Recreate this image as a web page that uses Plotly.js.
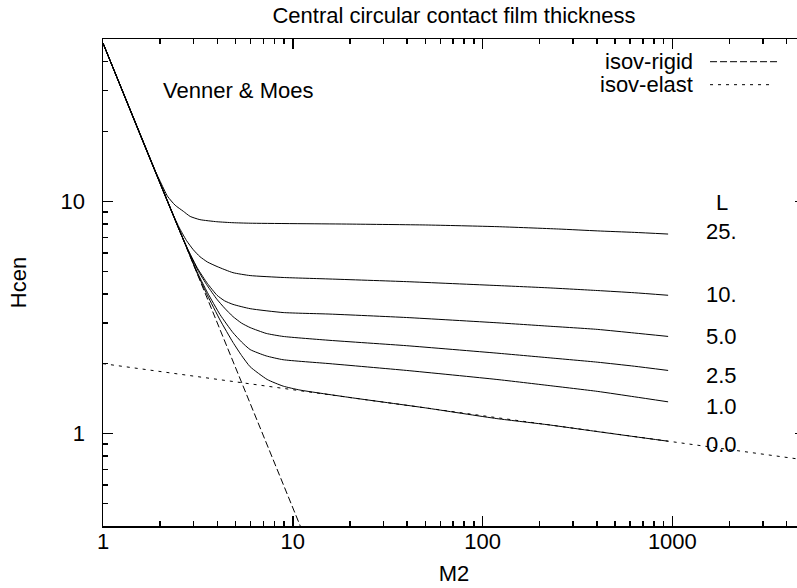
<!DOCTYPE html>
<html>
<head>
<meta charset="utf-8">
<script src="https://cdn.plot.ly/plotly-3.0.1.min.js"></script>
<style>
html, body { margin: 0; padding: 0; overflow: hidden; background: #fff; }
#chart { width: 805px; height: 588px; }
</style>
</head>
<body>
<div id="chart"></div>
<script>
// ---- data ----
const rigidM = [1, 12];
const rigidH = [48, 0.333];
const elastM = [1, 5000];
const elastH = [2.0, 0.77];

const m25 = [1, 1.86, 2.00, 2.19, 2.40, 2.65, 2.88, 3.24, 3.98, 4.84, 5.96, 20.0, 50.1, 119, 251, 402, 631, 950];
const h25 = [48, 13.8, 12.2, 10.5, 9.62, 9.06, 8.61, 8.34, 8.17, 8.09, 8.05, 7.98, 7.91, 7.78, 7.60, 7.46, 7.35, 7.23];

const m10 = [1, 2.25, 2.51, 2.75, 2.99, 3.24, 3.55, 3.99, 4.84, 5.96, 8.89, 15.7, 39.8, 119, 224, 402, 631, 950];
const h10 = [48, 9.44, 7.76, 6.79, 6.19, 5.78, 5.48, 5.24, 4.93, 4.79, 4.70, 4.63, 4.51, 4.34, 4.24, 4.13, 4.04, 3.94];

const m5 = [1, 2.51, 2.82, 3.16, 3.55, 3.99, 4.37, 4.84, 5.96, 8.89, 15.7, 39.8, 119, 224, 402, 631, 950];
const h5 = [48, 7.60, 6.14, 5.12, 4.43, 3.94, 3.73, 3.60, 3.45, 3.32, 3.27, 3.16, 3.00, 2.90, 2.81, 2.71, 2.62];

const m2_5 = [1, 2.44, 2.82, 3.16, 3.55, 3.98, 4.37, 4.84, 5.37, 5.96, 7.24, 8.89, 15.7, 39.8, 119, 224, 402, 631, 950];
const h2_5 = [48, 8.04, 6.11, 5.05, 4.33, 3.79, 3.47, 3.19, 2.99, 2.86, 2.70, 2.62, 2.52, 2.39, 2.22, 2.12, 2.03, 1.95, 1.87];

const m1 = [1, 2.74, 3.16, 3.55, 4.14, 4.84, 5.37, 5.96, 7.24, 8.89, 15.7, 39.8, 119, 224, 402, 631, 950];
const h1 = [48, 6.41, 4.89, 4.05, 3.25, 2.72, 2.48, 2.30, 2.16, 2.08, 2.00, 1.87, 1.71, 1.61, 1.52, 1.44, 1.37];

const m0 = [1, 2.84, 3.16, 3.55, 4.14, 4.84, 5.37, 5.96, 7.33, 8.91, 10.9, 20.0, 50.1, 119, 224, 402, 631, 950];
const h0 = [48, 5.96, 4.83, 3.94, 3.08, 2.47, 2.17, 1.94, 1.71, 1.60, 1.54, 1.43, 1.29, 1.16, 1.09, 1.02, 0.97, 0.927];

const curveLabels = ['L', '25.', '10.', '5.0', '2.5', '1.0', '0.0'];
const labelLogH = [0.996, 0.871, 0.597, 0.416, 0.252, 0.116, -0.049];
const labelLogM = 3.261;

const xTicks = [1, 10, 100, 1000];
const yTicks = [1, 10];
const xMinor = [2,3,4,5,6,7,8,9,20,30,40,50,60,70,80,90,200,300,400,500,600,700,800,900,2000,3000,4000];
const yMinor = [0.5,0.6,0.7,0.8,0.9,2,3,4,5,6,7,8,9,20,30,40];

const FONT = 'Liberation Sans, Arial, Helvetica, sans-serif';

function solid(m, h) {
  return {x: m, y: h, type: 'scatter', mode: 'lines', showlegend: false,
          line: {color: '#000', width: 1, shape: 'spline', smoothing: 0.5}, hoverinfo: 'skip'};
}

const traces = [
  {x: rigidM, y: rigidH, type: 'scatter', mode: 'lines', showlegend: false,
   line: {color: '#000', width: 1, dash: '7px,3px'}},
  {x: elastM, y: elastH, type: 'scatter', mode: 'lines', showlegend: false,
   line: {color: '#000', width: 1, dash: '3px,5px'}},
  solid(m25, h25), solid(m10, h10), solid(m5, h5),
  solid(m2_5, h2_5), solid(m1, h1), solid(m0, h0)
];

const annotations = curveLabels.map((t, i) => ({
  text: t, x: labelLogM, y: labelLogH[i], xref: 'x', yref: 'y',
  showarrow: false, xanchor: 'center', yanchor: 'middle',
  font: {family: FONT, size: 22, color: '#000'}
}));
annotations.push({
  text: 'Venner &amp; Moes', xref: 'paper', yref: 'paper', x: 0.0826, y: 0.894,
  xanchor: 'left', yanchor: 'middle', showarrow: false,
  font: {family: FONT, size: 22, color: '#000'}
});
annotations.push({
  text: 'isov-rigid', xref: 'paper', yref: 'paper', x: 0.843, y: 0.9534,
  xanchor: 'right', yanchor: 'middle', showarrow: false,
  font: {family: FONT, size: 22, color: '#000'}
});
annotations.push({
  text: 'isov-elast', xref: 'paper', yref: 'paper', x: 0.843, y: 0.9062,
  xanchor: 'right', yanchor: 'middle', showarrow: false,
  font: {family: FONT, size: 22, color: '#000'}
});

const shapes = [
  {type: 'line', xref: 'paper', yref: 'paper', x0: 0.8647, x1: 0.9615, y0: 0.9534, y1: 0.9534,
   line: {color: '#000', width: 1, dash: '7px,3px'}},
  {type: 'line', xref: 'paper', yref: 'paper', x0: 0.8647, x1: 0.9544, y0: 0.9062, y1: 0.9062,
   line: {color: '#000', width: 1, dash: '3px,5px'}}
];

const axisCommon = {
  type: 'log', showgrid: false, zeroline: false, showline: true, linecolor: '#000', linewidth: 1.5,
  mirror: 'ticks', ticks: 'inside', ticklen: 10, tickwidth: 1.5, tickcolor: '#000',
  tickfont: {family: FONT, size: 22, color: '#000'}, tickmode: 'array'
};

const layout = {
  width: 805, height: 588,
  margin: {l: 103, r: 0, t: 39, b: 62},
  paper_bgcolor: '#fff', plot_bgcolor: '#fff',
  title: {text: 'Central circular contact film thickness', x: 0.5, xref: 'paper',
          y: 0.974, yanchor: 'middle', font: {family: FONT, size: 22, color: '#000'}},
  xaxis: Object.assign({}, axisCommon, {
    range: [0, Math.log10(5000)], tickvals: xTicks, ticktext: xTicks.map(String),
    ticklabelstandoff: -5,
    minor: {tickmode: 'array', tickvals: xMinor, ticks: 'inside', ticklen: 5, tickwidth: 1.5, tickcolor: '#000', showgrid: false},
    title: {text: 'M2', standoff: 12, font: {family: FONT, size: 22, color: '#000'}}
  }),
  yaxis: Object.assign({}, axisCommon, {
    range: [Math.log10(0.4), Math.log10(50)], tickvals: yTicks, ticktext: yTicks.map(String),
    ticklabelstandoff: 12,
    minor: {tickmode: 'array', tickvals: yMinor, ticks: 'inside', ticklen: 5, tickwidth: 1.5, tickcolor: '#000', showgrid: false},
    title: {text: 'Hcen', standoff: 28, font: {family: FONT, size: 22, color: '#000'}}
  }),
  annotations: annotations,
  shapes: shapes,
  showlegend: false
};

Plotly.newPlot('chart', traces, layout, {staticPlot: true, displayModeBar: false});
</script>
</body>
</html>
